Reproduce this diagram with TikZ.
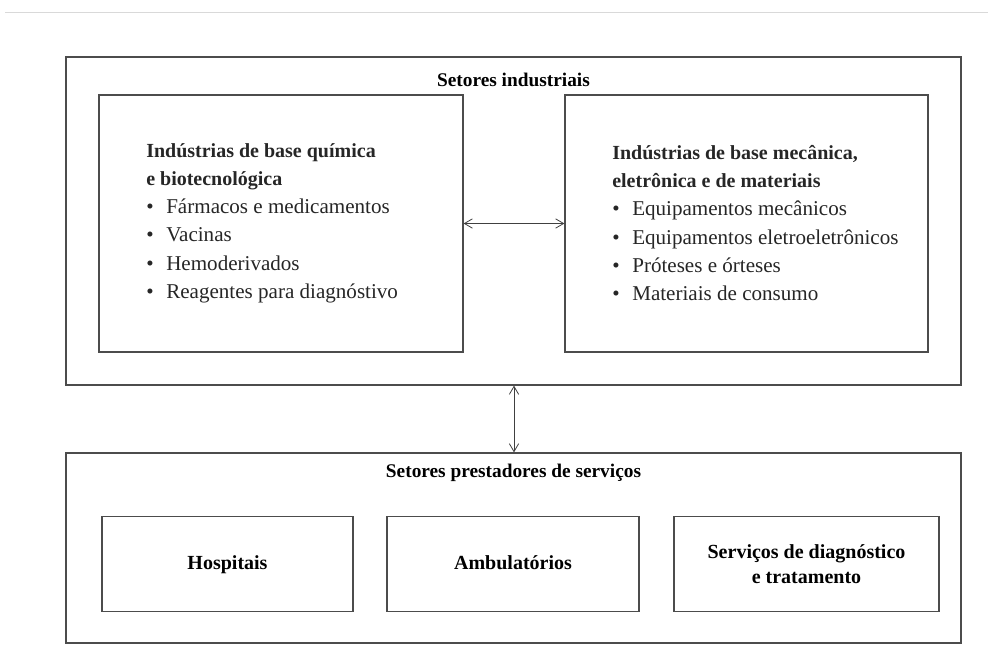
\documentclass[tikz,border=0pt]{standalone}
\usepackage{fontspec}
\setmainfont{Liberation Serif}
\usetikzlibrary{arrows.meta}
\newcommand{\headLine}[1]{{\fontsize{15}{21}\selectfont\bfseries #1}}
\newcommand{\bulletLine}[1]{\textbullet\hspace{0.6em}#1}
\begin{document}
\begin{tikzpicture}[x=0.75pt, y=-0.75pt,
    outerStyle/.style={rectangle, draw=black!70, line width=0.9pt, inner sep=0pt},
    innerStyle/.style={rectangle, draw=black!70, line width=0.9pt, inner sep=0pt},
    titleStyle/.style={font=\fontsize{14.5}{17}\selectfont\bfseries},
    listStyle/.style={anchor=west, align=left, inner sep=0pt, font=\fontsize{15.8}{21.2}\selectfont, text=black!85},
    labelStyle/.style={align=center, font=\fontsize{15}{19}\selectfont\bfseries},
    arrowStyle/.style={{Straight Barb[length=6pt,width=7pt]}-{Straight Barb[length=6pt,width=7pt]}, draw=black!75, line width=0.6pt}]
    \useasboundingbox (0,0) rectangle (988,664);
    \draw[gray!30, line width=0.6pt] (5,12) -- (988,12);

    % upper block
    \node[outerStyle, minimum width=895*0.75pt, minimum height=328*0.75pt] (indBox) at (513.5, 221) {};
    \node[titleStyle] (indTitle) at (513.5, 80) {Setores industriais};

    \node[innerStyle, minimum width=364*0.75pt, minimum height=257*0.75pt] (quimBox) at (281, 223.5) {};
    \node[listStyle] (quimText) at (146, 223) {\headLine{Indústrias de base química}\\
        \headLine{e biotecnológica}\\
        \bulletLine{Fármacos e medicamentos}\\
        \bulletLine{Vacinas}\\
        \bulletLine{Hemoderivados}\\
        \bulletLine{Reagentes para diagnóstivo}};

    \node[innerStyle, minimum width=363*0.75pt, minimum height=257*0.75pt] (mecBox) at (746.5, 223.5) {};
    \node[listStyle] (mecText) at (612, 223) {\headLine{Indústrias de base mecânica,}\\
        \headLine{eletrônica e de materiais}\\
        \bulletLine{Equipamentos mecânicos}\\
        \bulletLine{Equipamentos eletroeletrônicos}\\
        \bulletLine{Próteses e órteses}\\
        \bulletLine{Materiais de consumo}};

    \draw[arrowStyle] (quimBox.east) -- (mecBox.west);

    % lower block
    \node[outerStyle, minimum width=895*0.75pt, minimum height=190*0.75pt] (servBox) at (513.5, 548) {};
    \node[titleStyle] (servTitle) at (513.5, 473) {Setores prestadores de serviços};

    \node[innerStyle, minimum width=251*0.75pt, minimum height=95*0.75pt, labelStyle] (hospBox) at (227.5, 564) {\strut Hospitais};
    \node[innerStyle, minimum width=252*0.75pt, minimum height=95*0.75pt, labelStyle] (ambBox) at (513, 564) {\strut Ambulatórios};
    \node[innerStyle, minimum width=265*0.75pt, minimum height=95*0.75pt, labelStyle] (diagBox) at (806.5, 564) {Serviços de diagnóstico\\e tratamento};

    \draw[arrowStyle] (indBox.south -| 514,0) -- (servBox.north -| 514,0);
\end{tikzpicture}
\end{document}
